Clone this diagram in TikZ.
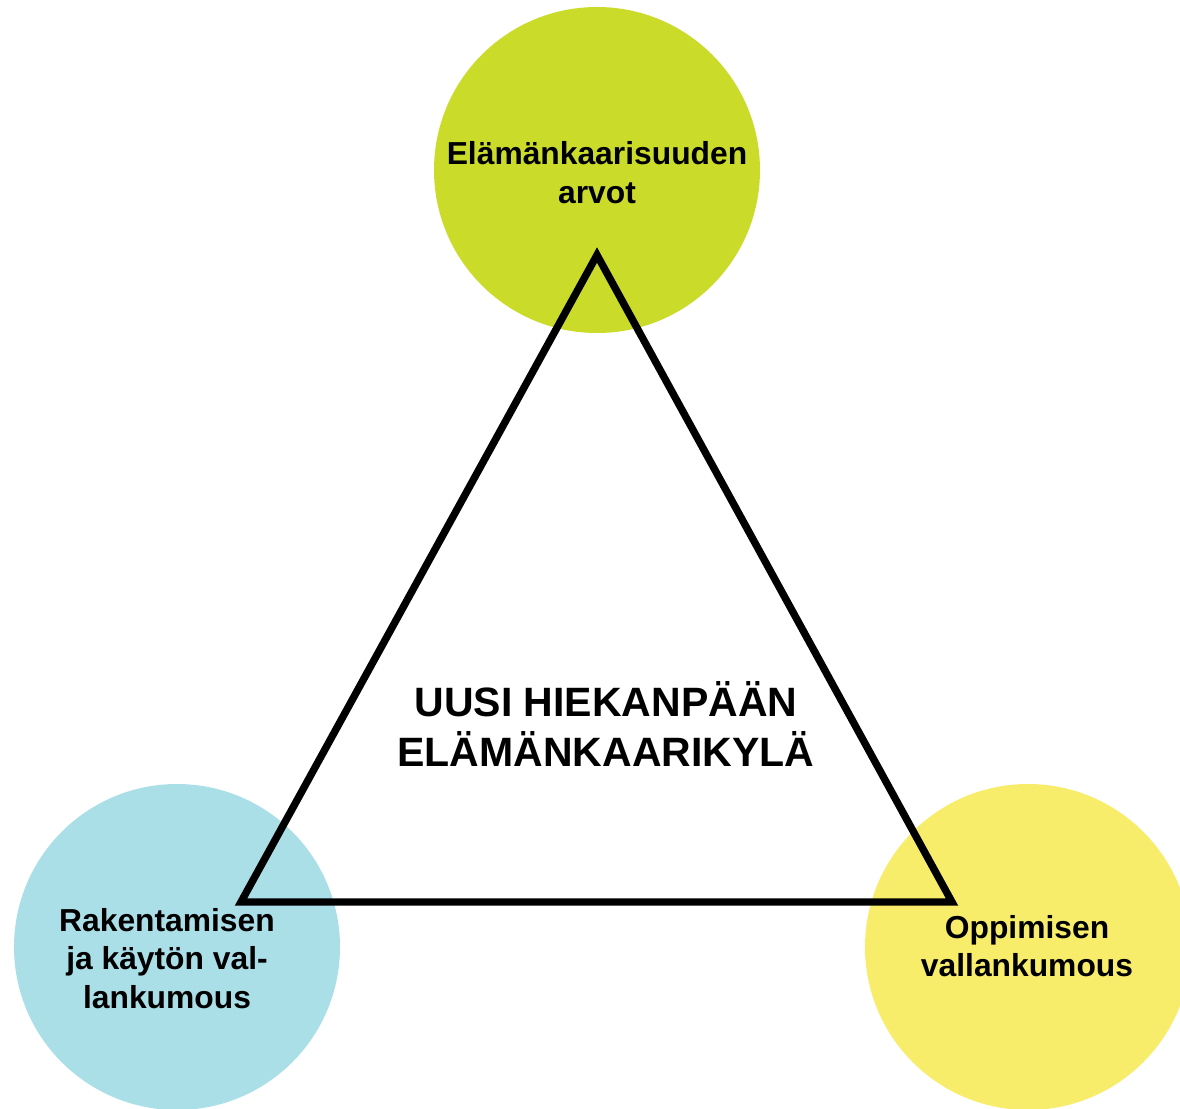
\documentclass[tikz,border=0pt]{standalone}
\usepackage{fontspec}
\setmainfont{Liberation Sans}
\usetikzlibrary{positioning}
\definecolor{lifegreen}{HTML}{CBDB2A}
\definecolor{buildblue}{HTML}{AADFE8}
\definecolor{learnyellow}{HTML}{F8EC6B}

\begin{document}
\begin{tikzpicture}[x=0.5pt,y=-0.5pt,
  disc/.style={circle,minimum size=163pt,inner sep=0pt},
  lbl/.style={align=center,inner sep=0pt,font=\bfseries\fontsize{15.9}{19.25}\selectfont}]
\useasboundingbox (0,0) rectangle (1180,1109);
\node[disc,fill=lifegreen] (life) at (597,170) {};
\node[disc,fill=buildblue] (build) at (177,947) {};
\node[disc,fill=learnyellow] (learn) at (1028,947) {};
\coordinate (apex) at (597,255); \coordinate (bl) at (241,902); \coordinate (br) at (952,902);
\draw[line width=3.7pt,miter limit=10] (apex)--(bl)--(br)--cycle;
\node[lbl] (lifetxt) at (597,172.5) {Elämänkaarisuuden\\arvot};
\node[lbl] (buildtxt) at (167,958.5) {Rakentamisen\\ja käytön val-\\lankumous};
\node[lbl] (learntxt) at (1027,946) {Oppimisen\\vallankumous};
\node[align=center,inner sep=0pt,font=\bfseries\fontsize{20.5}{25}\selectfont] (village) at (606,724) {UUSI HIEKANPÄÄN\\ELÄMÄNKAARIKYLÄ};
\end{tikzpicture}
\end{document}
